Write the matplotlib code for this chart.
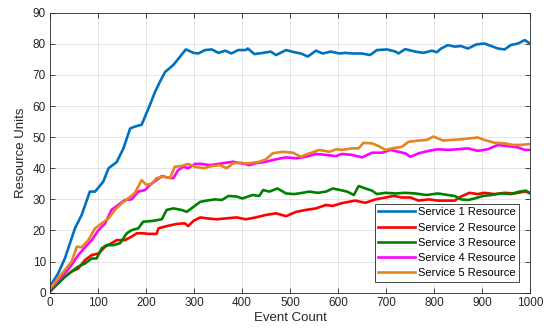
import matplotlib
matplotlib.use("Agg")
import matplotlib.pyplot as plt

plt.rcParams['font.family'] = ['Liberation Sans', 'DejaVu Sans']

# Service 1
s1_x = [0, 17, 31, 52, 66, 83, 94, 111, 122, 139, 153, 167, 177, 191, 198, 208, 219, 229, 240,
        257, 271, 283, 299, 309, 323, 337, 351, 365, 378, 392, 408, 412, 426, 444, 460, 471, 492,
        509, 523, 537, 554, 568, 585, 603, 615, 629, 650, 667, 681, 702, 720, 726, 740, 761, 778,
        796, 806, 815, 829, 843, 856, 871, 888, 905, 919, 933, 947, 960, 975, 989, 1000]
s1_y = [2, 6.2, 11, 20.7, 25, 32.5, 32.5, 35.7, 40, 42, 46.4, 52.8, 53.4, 54, 56.6, 60.3, 64.6,
        67.8, 71, 73.2, 75.9, 78.2, 77.1, 76.9, 78, 78.2, 77.1, 77.8, 76.9, 78, 78, 78.5, 76.7,
        77.1, 77.5, 76.4, 78, 77.3, 76.9, 75.9, 77.8, 76.9, 77.5, 76.9, 77.1, 76.9, 76.9, 76.4,
        78, 78.2, 77.5, 76.9, 78.3, 77.5, 77.1, 77.8, 77.3, 78.5, 79.6, 79.1, 79.3, 78.5, 79.8,
        80.1, 79.3, 78.5, 78.2, 79.6, 80.1, 81.2, 80.1]

# Service 2
s2_x = [0, 17, 31, 45, 59, 73, 87, 101, 115, 128, 139, 156, 170, 181, 194, 205, 222, 226, 243,
        264, 281, 288, 299, 313, 326, 347, 368, 389, 408, 429, 450, 471, 492, 513, 533, 554, 575,
        589, 606, 615, 636, 657, 678, 699, 716, 733, 751, 768, 789, 808, 829, 843, 856, 874, 891,
        905, 926, 947, 968, 989, 1000]
s2_y = [0.9, 3, 5.1, 6.8, 7.8, 10.5, 12.1, 12.6, 14.8, 15.9, 16.9, 16.9, 18, 19.1, 19.1, 18.9,
        18.9, 20.7, 21.4, 22.1, 22.3, 21.4, 23.1, 24.2, 23.9, 23.6, 23.9, 24.2, 23.6, 24.2, 25,
        25.5, 24.6, 26, 26.6, 27.1, 28.2, 27.9, 28.7, 29, 29.6, 28.9, 30, 30.6, 31.1, 30.6, 30.6,
        29.6, 30, 29.6, 29.6, 29.6, 30.9, 32.1, 31.7, 32.1, 31.7, 32.1, 31.9, 32.5, 32.1]

# Service 3
s3_x = [0, 17, 31, 45, 59, 73, 87, 97, 108, 118, 132, 146, 160, 170, 184, 194, 215, 233, 243,
        257, 274, 285, 299, 313, 326, 344, 358, 372, 389, 401, 422, 436, 444, 457, 474, 492, 509,
        526, 540, 558, 575, 589, 605, 619, 633, 643, 657, 671, 681, 699, 720, 740, 761, 785, 808,
        829, 843, 856, 871, 885, 902, 919, 940, 960, 978, 992, 1000]
s3_y = [0.3, 3, 5.1, 6.8, 8.4, 9.4, 11, 11, 14.3, 15.3, 15.3, 15.9, 19.1, 20.1, 20.7, 22.8,
        23.1, 23.6, 26.6, 27.1, 26.6, 26, 27.6, 29.2, 29.6, 30, 29.8, 31.1, 30.9, 30.3, 31.4,
        31.1, 33, 32.5, 33.5, 31.9, 31.7, 32.1, 32.5, 32.1, 32.5, 33.5, 33, 32.5, 31.4, 34.3,
        33.5, 32.8, 31.7, 32.1, 31.9, 32.1, 31.9, 31.4, 31.9, 31.4, 31.1, 30, 29.8, 30.3, 31.1,
        31.4, 31.9, 31.7, 32.5, 32.8, 31.9]

# Service 4
s4_x = [0, 17, 31, 45, 59, 73, 87, 101, 115, 128, 142, 156, 170, 184, 198, 208, 222, 233, 243,
        257, 267, 278, 288, 302, 316, 333, 351, 368, 382, 396, 406, 415, 429, 450, 471, 492, 513,
        533, 554, 575, 596, 608, 629, 650, 671, 692, 709, 726, 740, 751, 768, 789, 808, 829, 850,
        871, 891, 912, 933, 954, 975, 989, 1000]
s4_y = [1, 4, 6.2, 8.9, 12.1, 14.6, 16.9, 20.1, 22.3, 26.6, 28.2, 29.8, 30, 32.5, 33, 34.6,
        36.2, 37.5, 37.1, 36.8, 39.4, 40.5, 40, 41.4, 41.4, 41, 41.4, 41.8, 42.1, 41.6, 41.4, 41,
        41.6, 42.1, 42.9, 43.5, 43.2, 43.7, 44.6, 44.3, 43.9, 44.6, 44.3, 43.5, 45, 45, 45.9,
        45.3, 44.8, 43.7, 44.8, 45.6, 46.1, 45.9, 46.1, 46.4, 45.6, 46.1, 47.5, 47.1, 46.7, 45.9,
        45.9]

# Service 5
s5_x = [0, 17, 31, 45, 56, 66, 80, 94, 108, 122, 135, 149, 163, 177, 191, 201, 212, 222, 236,
        250, 260, 274, 288, 302, 320, 337, 354, 368, 382, 396, 406, 415, 436, 450, 464, 485, 506,
        523, 537, 561, 582, 596, 608, 629, 643, 653, 671, 685, 699, 713, 733, 747, 768, 785, 799,
        819, 836, 856, 874, 891, 905, 926, 947, 964, 982, 1000]
s5_y = [1.4, 4.6, 7.3, 10, 14.8, 14.6, 16.9, 20.7, 22.3, 23.9, 26.6, 28.7, 30.3, 32.1, 36.2,
        34.6, 35.1, 36.8, 37.3, 36.8, 40.5, 40.7, 41.4, 40.5, 40, 40.7, 41, 40, 41.6, 41.8, 41.6,
        41.6, 42.1, 42.9, 44.8, 45.3, 45, 43.7, 44.6, 45.9, 45.3, 46.1, 45.9, 46.4, 46.4, 48.2,
        48, 47.1, 45.9, 46.4, 46.9, 48.5, 48.9, 49.1, 50.2, 48.9, 49.1, 49.3, 49.6, 49.9, 49.1,
        48.2, 48, 47.5, 47.5, 47.8]

series = [
    (s1_x, s1_y, 'Service 1 Resource', '#0072BD'),
    (s2_x, s2_y, 'Service 2 Resource', '#FF0000'),
    (s3_x, s3_y, 'Service 3 Resource', '#008000'),
    (s4_x, s4_y, 'Service 4 Resource', '#FF00FF'),
    (s5_x, s5_y, 'Service 5 Resource', '#E3861C'),
]

x_ticks = list(range(0, 1001, 100))
y_ticks = list(range(0, 91, 10))

fig = plt.figure(figsize=(5.5, 3.35), dpi=100)
ax = fig.add_axes([0.0909, 0.1263, 0.8727, 0.8357])

for xs, ys, label, color in series:
    ax.plot(xs, ys, color=color, lw=1.9, label=label)

ax.set_xlim(0, 1000)
ax.set_ylim(0, 90)
ax.set_xticks(x_ticks)
ax.set_yticks(y_ticks)
ax.grid(True, color='#000000', alpha=0.12, lw=0.6)
ax.set_axisbelow(True)
ax.tick_params(direction='in', top=True, right=True, length=3.5, width=0.6,
               labelsize=8.5, colors='#262626', pad=3)
for sp in ax.spines.values():
    sp.set_color('#262626')
    sp.set_linewidth(0.6)

ax.set_xlabel('Event Count', fontsize=9.5, color='#262626', labelpad=2)
ax.set_ylabel('Resource Units', fontsize=9.5, color='#262626', labelpad=4)

leg = ax.legend(loc='lower right', fontsize=8, frameon=True, fancybox=False,
                handlelength=3.3, handletextpad=0.25, borderpad=0.3, labelspacing=0.47,
                borderaxespad=1.0)
leg.get_frame().set_edgecolor('#262626')
leg.get_frame().set_linewidth(0.6)
leg.get_frame().set_alpha(1)

fig.savefig('out.png', dpi=100)
